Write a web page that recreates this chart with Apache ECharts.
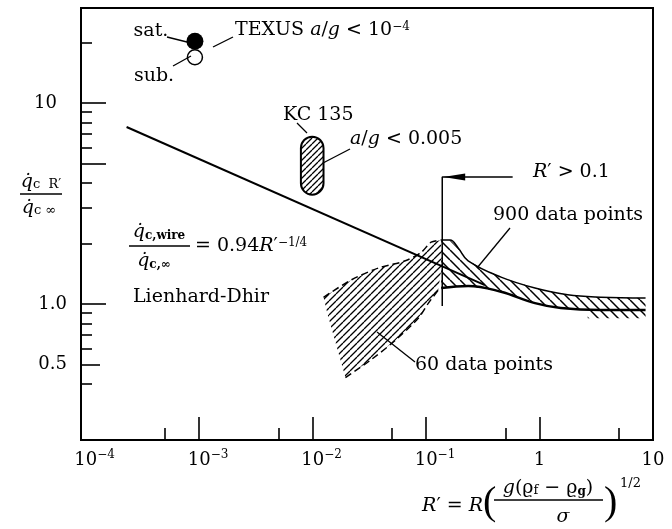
<!DOCTYPE html>
<html><head><meta charset="utf-8">
<script src="https://cdn.jsdelivr.net/npm/echarts@6/dist/echarts.min.js"></script>
<style>html,body{margin:0;padding:0;background:#fff}#c{width:672px;height:529px}</style>
</head><body><div id="c"></div>
<script>
// ---------- data ----------
const xMin = Math.pow(10, -4.04), xMax = 10;
const yMin = Math.pow(10, -0.677), yMax = Math.pow(10, 1.473);

const xMajorTicks = [1e-3, 1e-2, 1e-1, 1, 10];
const xMinorTicks = [5e-4, 5e-3, 5e-2, 0.5, 5];
const xLabelValues = [1e-4, 1e-3, 1e-2, 1e-1, 1, 10];
const xLabelBase = ['10', '10', '10', '10', '1', '10'];
const xLabelExp = ['−4', '−3', '−2', '−1', '', ''];

const yLongTicks = [1, 5, 10];
const yMidTicks = [0.5];
const yShortTicks = [0.4, 0.6, 0.7, 0.8, 0.9, 2, 3, 4, 6, 7, 8, 9, 20];
const yLabelValues = [0.5, 1, 10];
const yLabelText = ['0.5', '1.0', '10'];

// Lienhard-Dhir correlation line (end points)
const lienhardDhir = [[2.3e-4, 7.6], [0.33, 1.24]];

// TEXUS points
const texusSat = [[9.2e-4, 20.3]];
const texusSub = [[9.2e-4, 16.9]];

// KC 135 region bounds [x0, x1], [y0, y1]
const kcX = [0.0079, 0.0125];
const kcY = [3.5, 6.8];

// 60 data points region
const sixtyRegion = [[0.0125, 1.08], [0.0221, 1.32], [0.0381, 1.51], [0.0658, 1.64], [0.091, 1.81],
  [0.111, 2.03], [0.136, 2.08], [0.138, 1.56], [0.128, 1.17], [0.105, 1.01], [0.0855, 0.85],
  [0.0537, 0.66], [0.0331, 0.53], [0.0195, 0.43], [0.0165, 0.6], [0.0135, 0.9]];
const sixtyUpper = [[0.0125, 1.08], [0.0221, 1.32], [0.0381, 1.51], [0.0658, 1.64], [0.091, 1.81],
  [0.111, 2.03], [0.136, 2.08]];
const sixtyLower = [[0.0195, 0.43], [0.0331, 0.53], [0.0537, 0.66], [0.0855, 0.85], [0.105, 1.01], [0.128, 1.17]];

// 900 data points band
const bandUpper = [[0.136, 2.08], [0.163, 2.08], [0.192, 1.90], [0.235, 1.64], [0.458, 1.36],
  [0.912, 1.20], [1.77, 1.11], [3.46, 1.08], [8.6, 1.07]];
const bandLower = [[0.136, 1.20], [0.235, 1.23], [0.458, 1.15], [0.912, 1.01], [1.54, 0.955],
  [3.46, 0.934], [8.6, 0.934]];
const bandTail = [[2.66, 0.934], [8.6, 0.934], [8.6, 0.85], [2.66, 0.85]];

// R' > 0.1 marker
const rMarker = [[0.139, 0.977], [0.139, 4.28], [0.58, 4.28]];
const rArrow = [[0.177, 4.28]];

// ---------- rendering ----------
const SERIF = '"DejaVu Serif", serif';
const chart = echarts.init(document.getElementById('c'));

function hatch(size, dir, lw) {
  const c = document.createElement('canvas');
  c.width = c.height = size;
  const g = c.getContext('2d');
  g.strokeStyle = '#000'; g.lineWidth = lw; g.lineCap = 'butt';
  g.beginPath();
  for (const o of [-size, 0, size]) {
    if (dir === '/') { g.moveTo(o, size); g.lineTo(o + size, 0); }
    else { g.moveTo(o, 0); g.lineTo(o + size, size); }
  }
  g.stroke();
  return c;
}
const hatch60 = hatch(7, '/', 1.3);
const hatchKC = hatch(6, '/', 1.3);
const hatchBand = hatch(10, '\\', 1.5);

function polySeries(pts, pattern) {
  return {
    type: 'custom', silent: true, z: 2, data: pts,
    renderItem: (params, api) => {
      if (params.dataIndex !== 0) return null;
      return { type: 'polygon', shape: { points: pts.map(p => api.coord(p)) },
        style: { fill: { image: pattern, repeat: 'repeat' }, stroke: null } };
    }
  };
}
function bandSeries(up, lo, pattern) {
  const pts = up.concat(lo.slice().reverse());
  return polySeries(pts, pattern);
}
function lineSeries(data, width, dash, smooth) {
  return { type: 'line', data, showSymbol: false, silent: true, z: 4, smooth: smooth || false,
    lineStyle: { color: '#000', width, type: dash ? [7, 4] : 'solid' } };
}

const axisFont = { fontFamily: SERIF, fontSize: 18, color: '#000' };

function xAxisDef(ticks, len, withLabel) {
  return {
    type: 'log', logBase: 10, min: xMin, max: xMax, position: 'bottom', gridIndex: 0,
    axisLine: { show: withLabel, lineStyle: { color: '#000', width: 2 } },
    splitLine: { show: false },
    axisTick: { show: true, inside: true, length: len, customValues: ticks, lineStyle: { color: '#000', width: 1.6 } },
    axisLabel: withLabel ? {
      show: true, margin: 9, customValues: xLabelValues, ...axisFont,
      formatter: (v) => {
        const i = xLabelValues.findIndex(t => Math.abs(Math.log10(t) - Math.log10(v)) < 1e-6);
        if (i < 0) return '';
        return xLabelExp[i] ? '{b|' + xLabelBase[i] + '}{s|' + xLabelExp[i] + '}' : '{n|' + xLabelBase[i] + '}';
      },
      rich: {
        b: { fontFamily: SERIF, fontSize: 18, padding: [0, 0, 0, 18], lineHeight: 22 },
        n: { fontFamily: SERIF, fontSize: 18, lineHeight: 22 },
        s: { fontFamily: SERIF, fontSize: 12, verticalAlign: 'top', lineHeight: 12 }
      }
    } : { show: false }
  };
}
function yAxisDef(ticks, len, withLabel) {
  return {
    type: 'log', logBase: 10, min: yMin, max: yMax, position: 'left', gridIndex: 0,
    axisLine: { show: withLabel, lineStyle: { color: '#000', width: 2 } },
    splitLine: { show: false },
    axisTick: { show: true, inside: true, length: len, customValues: ticks, lineStyle: { color: '#000', width: 1.6 } },
    axisLabel: withLabel ? {
      show: true, margin: 14, customValues: yLabelValues, ...axisFont,
      formatter: (v) => {
        const i = yLabelValues.findIndex(t => Math.abs(Math.log10(t) - Math.log10(v)) < 1e-6);
        if (i < 0) return '';
        return yLabelText[i] === '10' ? '{p|10}' : yLabelText[i];
      },
      rich: { p: { fontFamily: SERIF, fontSize: 18, padding: [0, 10, 0, 0] } }
    } : { show: false }
  };
}

const FS = 19;
const T = (text, x, y, align, extra) => ({
  type: 'text', x, y, z: 10, silent: true,
  style: Object.assign({ text, fill: '#000', fontFamily: SERIF, fontSize: FS, align: align || 'left', verticalAlign: 'middle',
    rich: {
      i: { fontFamily: SERIF, fontSize: FS, fontStyle: 'italic' },
      s: { fontFamily: SERIF, fontSize: 12, verticalAlign: 'top', lineHeight: 12 },
      sb: { fontFamily: SERIF, fontSize: 13, verticalAlign: 'bottom', lineHeight: 13 },
      sbb: { fontFamily: SERIF, fontSize: 12, fontWeight: 'bold', verticalAlign: 'bottom', lineHeight: 12 }
    } }, extra || {})
});
const L = (x1, y1, x2, y2, w) => ({ type: 'line', z: 10, silent: true, shape: { x1, y1, x2, y2 },
  style: { stroke: '#000', lineWidth: w || 1.3 } });

const graphics = [
  T('sat.', 151, 31, 'center'), L(167, 37, 191, 43),
  T('sub.', 154, 76, 'center'), L(173, 66, 191, 56),
  T('TEXUS {i|a}/{i|g} < 10{s|−4}', 235, 30), L(213, 47, 233, 37),
  T('KC 135', 283, 115), L(297, 123, 307, 133),
  T('{i|a}/{i|g} < 0.005', 350, 139), L(350, 149, 323, 163),
  T('{i|R}′ > 0.1', 533, 172),
  T('900 data points', 493, 215), L(510, 228, 477, 268),
  T('60 data points', 415, 365), L(377, 332, 415, 362),
  T('Lienhard-Dhir', 133, 297),
  // formula
  T('{i|q̇}{sbb|c,wire}', 159, 232, 'center'), L(129, 246, 190, 246, 1.5),
  T('{i|q̇}{sbb|c,∞}', 154, 261, 'center'),
  T('= 0.94{i|R}′{s|−1/4}', 195, 246),
  // y title
  T('{i|q̇}{sb|c  R′}', 41, 182, 'center'), L(20, 194, 62, 194, 1.5),
  T('{i|q̇}{sb|c ∞}', 39, 208, 'center'),
  // x title
  T('{i|R}′ = {i|R}', 483, 506, 'right'),
  T('(', 483, 503, 'left', { fontSize: 40, fontFamily: '"Liberation Serif", serif' }),
  T('{i|g}(ϱ{sb|f} − ϱ{sbb|g})', 548, 488, 'center'), L(494, 500, 603, 500, 1.5),
  T('{i|σ}', 563, 517, 'center'),
  T(')', 604, 503, 'left', { fontSize: 40, fontFamily: '"Liberation Serif", serif' }),
  T('1/2', 620, 484, 'left', { fontSize: 13 })
];

chart.setOption({
  animation: false,
  backgroundColor: '#fff',
  grid: { left: 81, top: 8, right: 19, bottom: 89, show: true, borderColor: '#000', borderWidth: 2, outerBoundsMode: 'none', containLabel: false },
  xAxis: [xAxisDef(xMajorTicks, 23, true), xAxisDef(xMinorTicks, 12, false)],
  yAxis: [yAxisDef(yLongTicks, 25, true), yAxisDef(yMidTicks, 19, false), yAxisDef(yShortTicks, 11, false)],
  series: [
    polySeries(sixtyRegion, hatch60),
    bandSeries(bandUpper, bandLower, hatchBand),
    polySeries(bandTail, hatchBand),
    {
      type: 'custom', silent: true, z: 3, data: [[kcX[0], kcY[0]]],
      renderItem: (params, api) => {
        const a = api.coord([kcX[0], kcY[1]]), b = api.coord([kcX[1], kcY[0]]);
        const w = b[0] - a[0], h = b[1] - a[1];
        return { type: 'rect', shape: { x: a[0], y: a[1], width: w, height: h, r: w / 2 },
          style: { fill: { image: hatchKC, repeat: 'repeat' }, stroke: '#000', lineWidth: 2 } };
      }
    },
    lineSeries(lienhardDhir, 2),
    lineSeries(sixtyUpper, 1.5, true, 0.3),
    lineSeries(sixtyLower, 1.5, true, 0.3),
    lineSeries(bandUpper, 1.5, false, 0.4),
    lineSeries(bandLower, 2.5, false, 0.4),
    lineSeries(rMarker, 1.5),
    { type: 'scatter', data: rArrow, symbol: 'triangle', symbolSize: [7, 22], symbolRotate: 90, silent: true, z: 5,
      itemStyle: { color: '#000', opacity: 1 } },
    { type: 'scatter', data: texusSat, symbol: 'circle', symbolSize: 17, silent: true, z: 5,
      itemStyle: { color: '#000', opacity: 1 } },
    { type: 'scatter', data: texusSub, symbol: 'circle', symbolSize: 15, silent: true, z: 5,
      itemStyle: { color: '#fff', borderColor: '#000', borderWidth: 1.5, opacity: 1 } }
  ],
  graphic: graphics
});
</script>
</body></html>
